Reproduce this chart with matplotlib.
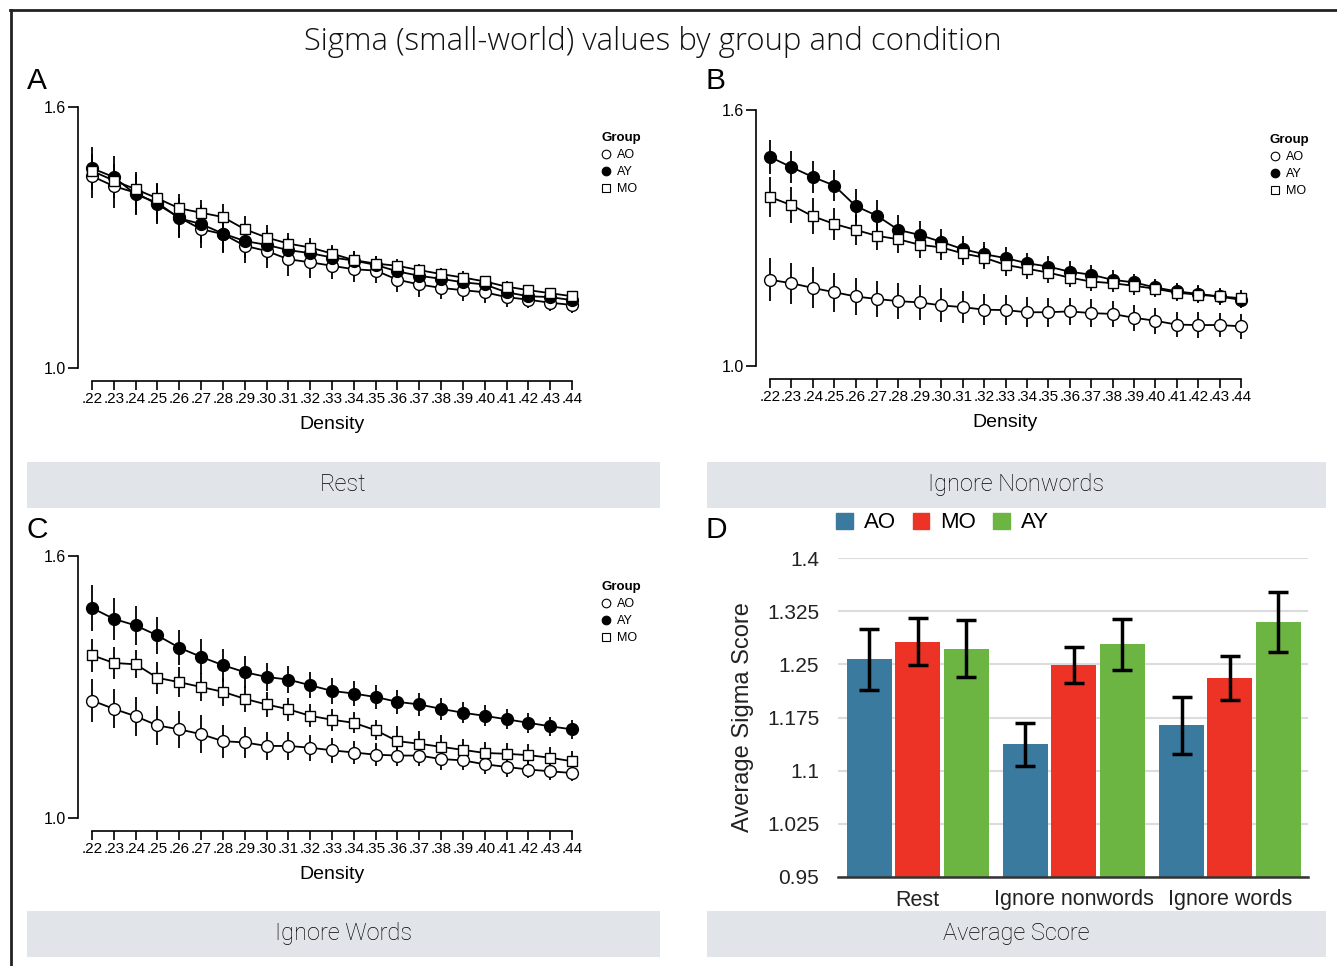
import matplotlib
matplotlib.use('Agg')

import numpy as np
import matplotlib.pyplot as plt
from matplotlib.lines import Line2D
from matplotlib.patches import Rectangle, Patch

plt.rcParams['font.family'] = ['Liberation Sans', 'DejaVu Sans']

W, H = 1337, 966

# ---- data: sigma by density (panels A-C) ----
density = [.22, .23, .24, .25, .26, .27, .28, .29, .30, .31, .32, .33,
           .34, .35, .36, .37, .38, .39, .40, .41, .42, .43, .44]

rest_ao = [1.441, 1.418, 1.403, 1.376, 1.346, 1.319, 1.308, 1.281, 1.269, 1.250, 1.243, 1.235,
           1.227, 1.224, 1.203, 1.192, 1.184, 1.179, 1.174, 1.163, 1.157, 1.150, 1.145]
rest_ay = [1.459, 1.439, 1.399, 1.380, 1.344, 1.331, 1.309, 1.292, 1.283, 1.271, 1.264, 1.254,
           1.247, 1.237, 1.222, 1.212, 1.205, 1.197, 1.192, 1.174, 1.165, 1.163, 1.156]
rest_mo = [1.453, 1.431, 1.411, 1.390, 1.367, 1.357, 1.347, 1.319, 1.300, 1.286, 1.277, 1.263,
           1.248, 1.240, 1.235, 1.225, 1.216, 1.208, 1.199, 1.187, 1.179, 1.172, 1.165]
rest_ao_err = [0.050, 0.050, 0.048, 0.045, 0.045, 0.043, 0.042, 0.040, 0.040, 0.038, 0.035, 0.030,
               0.030, 0.028, 0.028, 0.028, 0.026, 0.025, 0.024, 0.022, 0.020, 0.020, 0.018]
rest_ay_err = [0.050, 0.048, 0.048, 0.045, 0.045, 0.043, 0.045, 0.040, 0.035, 0.030, 0.028, 0.025,
               0.022, 0.020, 0.020, 0.020, 0.018, 0.016, 0.015, 0.015, 0.014, 0.014, 0.014]
rest_mo_err = [0.035, 0.035, 0.035, 0.033, 0.032, 0.030, 0.030, 0.030, 0.028, 0.025, 0.022, 0.020,
               0.020, 0.018, 0.016, 0.015, 0.015, 0.014, 0.013, 0.013, 0.012, 0.012, 0.012]

nonw_ao = [1.202, 1.194, 1.183, 1.173, 1.163, 1.157, 1.152, 1.149, 1.142, 1.138, 1.132, 1.131,
           1.126, 1.126, 1.128, 1.124, 1.122, 1.113, 1.106, 1.097, 1.096, 1.096, 1.093]
nonw_ay = [1.490, 1.466, 1.443, 1.423, 1.375, 1.352, 1.319, 1.307, 1.291, 1.274, 1.262, 1.253,
           1.241, 1.233, 1.221, 1.214, 1.202, 1.196, 1.184, 1.175, 1.169, 1.163, 1.155]
nonw_mo = [1.396, 1.377, 1.351, 1.333, 1.319, 1.305, 1.297, 1.284, 1.278, 1.264, 1.254, 1.237,
           1.228, 1.219, 1.207, 1.198, 1.194, 1.188, 1.181, 1.172, 1.167, 1.163, 1.159]
nonw_ao_err = [0.050, 0.048, 0.048, 0.046, 0.044, 0.043, 0.042, 0.042, 0.040, 0.038, 0.036, 0.036,
               0.035, 0.034, 0.032, 0.032, 0.030, 0.030, 0.030, 0.030, 0.030, 0.029, 0.029]
nonw_ay_err = [0.040, 0.038, 0.038, 0.037, 0.040, 0.038, 0.035, 0.032, 0.030, 0.030, 0.028, 0.026,
               0.025, 0.025, 0.024, 0.022, 0.022, 0.020, 0.020, 0.020, 0.020, 0.018, 0.018]
nonw_mo_err = [0.047, 0.043, 0.042, 0.038, 0.036, 0.034, 0.033, 0.030, 0.030, 0.028, 0.027, 0.026,
               0.025, 0.024, 0.022, 0.022, 0.021, 0.021, 0.020, 0.020, 0.020, 0.019, 0.019]

word_ao = [1.269, 1.250, 1.233, 1.212, 1.203, 1.192, 1.176, 1.173, 1.165, 1.165, 1.161, 1.155,
           1.150, 1.145, 1.143, 1.143, 1.135, 1.132, 1.123, 1.117, 1.111, 1.107, 1.103]
word_ay = [1.481, 1.456, 1.441, 1.418, 1.390, 1.369, 1.350, 1.334, 1.323, 1.317, 1.304, 1.291,
           1.285, 1.277, 1.266, 1.260, 1.250, 1.241, 1.234, 1.226, 1.218, 1.210, 1.203]
word_mo = [1.373, 1.355, 1.352, 1.321, 1.311, 1.300, 1.289, 1.273, 1.260, 1.249, 1.234, 1.225,
           1.218, 1.201, 1.176, 1.170, 1.163, 1.156, 1.149, 1.147, 1.144, 1.138, 1.130]
word_ao_err = [0.050, 0.045, 0.045, 0.045, 0.043, 0.043, 0.038, 0.035, 0.033, 0.032, 0.030, 0.028,
               0.027, 0.026, 0.025, 0.025, 0.024, 0.023, 0.023, 0.022, 0.020, 0.020, 0.018]
word_ay_err = [0.053, 0.048, 0.045, 0.042, 0.040, 0.040, 0.038, 0.036, 0.033, 0.031, 0.030, 0.030,
               0.029, 0.028, 0.027, 0.026, 0.025, 0.024, 0.024, 0.023, 0.023, 0.022, 0.021]
word_mo_err = [0.038, 0.036, 0.032, 0.036, 0.035, 0.032, 0.032, 0.030, 0.028, 0.026, 0.026, 0.025,
               0.024, 0.023, 0.035, 0.030, 0.028, 0.026, 0.025, 0.025, 0.025, 0.025, 0.024]

# ---- data: average sigma (panel D) ----
conditions = ['Rest', 'Ignore nonwords', 'Ignore words']
groups_d = ['AO', 'MO', 'AY']
avg_sigma = {
    'AO': [1.257, 1.137, 1.164],
    'MO': [1.282, 1.249, 1.231],
    'AY': [1.272, 1.278, 1.310],
}
avg_err = {
    'AO': [0.043, 0.030, 0.040],
    'MO': [0.033, 0.026, 0.031],
    'AY': [0.040, 0.036, 0.042],
}
bar_colors = {'AO': '#3a7a9e', 'MO': '#ec3326', 'AY': '#6db543'}
d_ticks = [0.95, 1.025, 1.1, 1.175, 1.25, 1.325, 1.4]
d_ticklabels = ['0.95', '1.025', '1.1', '1.175', '1.25', '1.325', '1.4']

fig = plt.figure(figsize=(W / 100, H / 100), dpi=100)


def px_axes(l, t, r, b):
    return fig.add_axes([l / W, 1 - b / H, (r - l) / W, (b - t) / H])


def draw_density(ax, ao, ay, mo, ao_err, ay_err, mo_err, legend_xy):
    styles = [
        ('AO', ao, ao_err, dict(marker='o', mfc='white', ms=8.5)),
        ('AY', ay, ay_err, dict(marker='o', mfc='black', ms=8.5)),
        ('MO', mo, mo_err, dict(marker='s', mfc='white', ms=7.5)),
    ]
    handles = []
    for name, vals, err, st in styles:
        eb = ax.errorbar(density, vals, yerr=err, fmt='none', ecolor='black',
                         elinewidth=1.3, zorder=2)
        for child in eb.get_children():
            child.set_clip_on(False)
        ax.plot(density, vals, color='black', lw=1.3, mec='black', mew=1.0,
                clip_on=False, zorder=3, **st)
        handles.append(Line2D([], [], ls='none', color='black', mec='black',
                              mew=0.8, marker=st['marker'], mfc=st['mfc'],
                              ms=st['ms'] - 2.3))
    ax.set_xlim(.22, .44)
    ax.set_ylim(1.0, 1.6)
    ax.set_xticks(density, [f"{d:.2f}"[1:] for d in density])
    ax.set_yticks([1.0, 1.6], ['1.0', '1.6'])
    for s in ['top', 'right']:
        ax.spines[s].set_visible(False)
    ax.spines['left'].set_position(('outward', 10))
    ax.spines['bottom'].set_position(('outward', 9.5))
    for s in ['left', 'bottom']:
        ax.spines[s].set_linewidth(1.2)
    ax.tick_params(axis='x', length=6.5, width=1.2, labelsize=11, pad=1.5)
    ax.tick_params(axis='y', length=7, width=1.2, labelsize=11.5, pad=1.5)
    ax.set_xlabel('Density', fontsize=14, labelpad=7)
    ax.set_facecolor('none')
    leg = ax.legend(handles, ['AO', 'AY', 'MO'], title='Group', loc='upper left',
                    bbox_to_anchor=(legend_xy[0] / W, 1 - legend_xy[1] / H),
                    bbox_transform=fig.transFigure, frameon=False, fontsize=9,
                    handlelength=0.8, handletextpad=0.5, labelspacing=0.4,
                    borderpad=0, borderaxespad=0, alignment='left',
                    title_fontproperties={'weight': 'bold', 'size': 9.5})
    return leg


ax_a = px_axes(92, 107, 572, 368)
draw_density(ax_a, rest_ao, rest_ay, rest_mo, rest_ao_err, rest_ay_err, rest_mo_err, (601, 132))

ax_b = px_axes(770, 110, 1241, 366)
draw_density(ax_b, nonw_ao, nonw_ay, nonw_mo, nonw_ao_err, nonw_ay_err, nonw_mo_err, (1270, 134))

ax_c = px_axes(92, 556, 572, 818)
draw_density(ax_c, word_ao, word_ay, word_mo, word_ao_err, word_ay_err, word_mo_err, (601, 581))

# ---- panel D: grouped bars ----
ax_d = px_axes(838, 558, 1308, 877)
x = np.arange(len(conditions))
offsets = {'AO': -0.31, 'MO': 0.0, 'AY': 0.31}
for g in groups_d:
    ax_d.bar(x + offsets[g], avg_sigma[g], width=0.288, color=bar_colors[g],
             yerr=avg_err[g], zorder=2,
             error_kw=dict(ecolor='black', elinewidth=2.5, capsize=7, capthick=2.5, zorder=3))
ax_d.set_xlim(-0.51, 2.5)
ax_d.set_ylim(0.95, 1.4)
ax_d.set_yticks(d_ticks, d_ticklabels)
ax_d.set_xticks(x, conditions)
ax_d.grid(axis='y', color='#dcdcdc', lw=1.5, zorder=0)
for s in ['top', 'right', 'left']:
    ax_d.spines[s].set_visible(False)
ax_d.spines['bottom'].set_color('#333333')
ax_d.spines['bottom'].set_linewidth(1.8)
ax_d.spines['bottom'].set_zorder(4)
ax_d.tick_params(axis='y', length=0, labelsize=15, pad=13.5, labelcolor='#222222')
ax_d.tick_params(axis='x', length=0, labelsize=15.5, pad=9, labelcolor='#222222')
ax_d.set_ylabel('Average Sigma Score', fontsize=17, color='#222222', labelpad=9)
ax_d.set_axisbelow(True)
d_handles = [Patch(color=bar_colors[g]) for g in groups_d]
ax_d.legend(d_handles, groups_d, loc='center left', bbox_to_anchor=(836 / W, 1 - 523 / H),
            bbox_transform=fig.transFigure, ncol=3, frameon=False, fontsize=16,
            handlelength=0.75, handleheight=0.75, handletextpad=0.5, columnspacing=0.75,
            borderpad=0, borderaxespad=0)

# ---- banners, letters, title, border ----
banners = [
    (27, 462, 660, 508, 'Rest'),
    (707, 462, 1326, 508, 'Ignore Nonwords'),
    (27, 911, 660, 957, 'Ignore Words'),
    (707, 911, 1326, 957, 'Average Score'),
]
for l, t, r, b, label in banners:
    fig.add_artist(Rectangle((l / W, 1 - b / H), (r - l) / W, (b - t) / H,
                             transform=fig.transFigure, facecolor='#e1e5ea', edgecolor='none'))
    fig.text((l + r) / 2 / W, 1 - (t + b) / 2 / H + 0.001, label, ha='center', va='center',
             fontsize=17, color='#000000', family=['Roboto', 'DejaVu Sans'], fontweight='light')

for letter, lx, ly in [('A', 27, 81), ('B', 705, 81), ('C', 27, 530), ('D', 705, 530)]:
    fig.text(lx / W, 1 - ly / H, letter, ha='left', va='center', fontsize=21.5, color='black')

fig.text(653 / W, 1 - 42 / H, 'Sigma (small-world) values by group and condition',
         ha='center', va='center', fontsize=22.4, color='#111111',
         family=['Open Sans', 'Lato', 'DejaVu Sans'], fontweight='light')

fig.add_artist(Line2D([10 / W, 1], [1 - 10 / H, 1 - 10 / H], transform=fig.transFigure,
                      color='#222222', lw=2))
fig.add_artist(Line2D([11 / W, 11 / W], [0, 1 - 10 / H], transform=fig.transFigure,
                      color='#222222', lw=2))

fig.savefig('out.png', dpi=100, facecolor='white')
